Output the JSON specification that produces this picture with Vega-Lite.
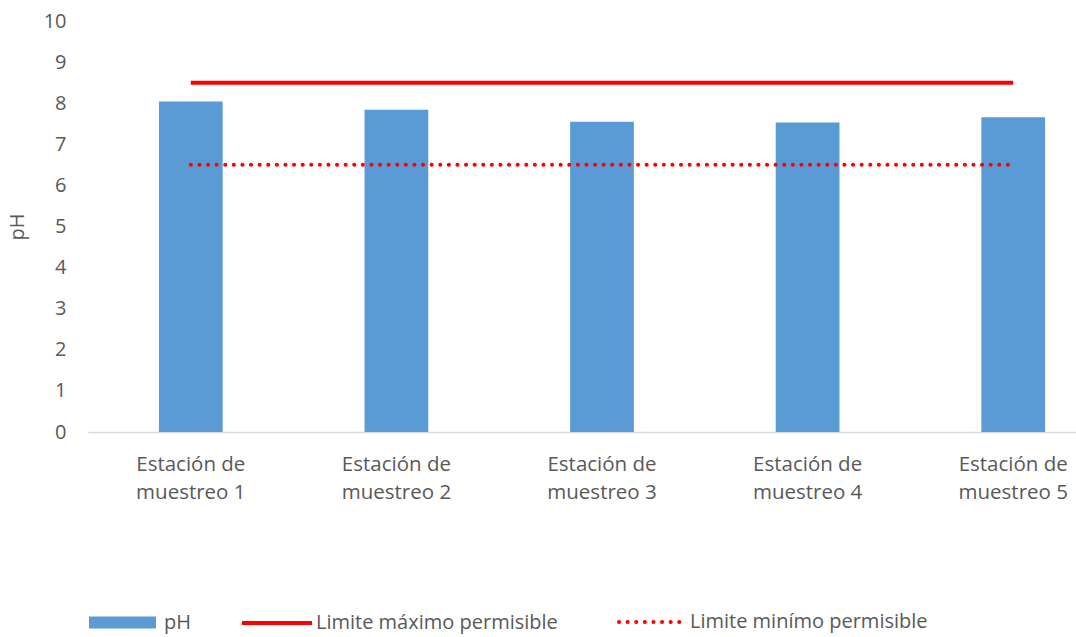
{
  "$schema": "https://vega.github.io/schema/vega-lite/v6.json",
  "width": 988,
  "height": 411,
  "autosize": "none",
  "padding": {"left": 88, "top": 21, "right": 0, "bottom": 205},
  "background": "white",
  "config": {
    "view": {"stroke": null},
    "font": "Open Sans",
    "axis": {"labelFont": "Open Sans", "titleFont": "Open Sans", "labelColor": "#595959", "titleColor": "#595959"},
    "legend": {"labelFont": "Open Sans", "labelColor": "#595959", "labelFontSize": 20, "labelLimit": 500, "padding": 0, "title": null}
  },
  "datasets": {
    "ph": [
      {"estacion": "Estación de muestreo 1", "serie": "pH", "ph": 8.04},
      {"estacion": "Estación de muestreo 2", "serie": "pH", "ph": 7.84},
      {"estacion": "Estación de muestreo 3", "serie": "pH", "ph": 7.55},
      {"estacion": "Estación de muestreo 4", "serie": "pH", "ph": 7.53},
      {"estacion": "Estación de muestreo 5", "serie": "pH", "ph": 7.66}
    ],
    "lims": [
      {"estacion": "Estación de muestreo 1", "maxl": "Limite máximo permisible", "max": 8.5, "minl": "Limite minímo permisible", "min": 6.5},
      {"estacion": "Estación de muestreo 2", "maxl": "Limite máximo permisible", "max": 8.5, "minl": "Limite minímo permisible", "min": 6.5},
      {"estacion": "Estación de muestreo 3", "maxl": "Limite máximo permisible", "max": 8.5, "minl": "Limite minímo permisible", "min": 6.5},
      {"estacion": "Estación de muestreo 4", "maxl": "Limite máximo permisible", "max": 8.5, "minl": "Limite minímo permisible", "min": 6.5},
      {"estacion": "Estación de muestreo 5", "maxl": "Limite máximo permisible", "max": 8.5, "minl": "Limite minímo permisible", "min": 6.5}
    ]
  },
  "encoding": {
    "x": {
      "field": "estacion", "type": "nominal", "sort": null,
      "scale": {"range": [0, 1028], "paddingInner": 0.69, "paddingOuter": 0.345},
      "axis": {
        "title": null, "labelAngle": 0, "ticks": false, "domainColor": "#D9D9D9", "domainWidth": 1.5,
        "labelFontSize": 20.5, "labelPadding": 22, "labelLineHeight": 28, "labelOverlap": false, "labelBound": false,
        "labelExpr": "[slice(datum.label, 0, 11), slice(datum.label, 12)]"
      }
    }
  },
  "layer": [
    {
      "data": {"name": "ph"},
      "mark": {"type": "bar", "fill": "#5B9BD5"},
      "encoding": {
        "y": {
          "field": "ph", "type": "quantitative",
          "scale": {"domain": [0, 10], "nice": false},
          "axis": {"title": "pH", "titleFontSize": 20, "titleFontWeight": "normal", "titlePadding": 16, "values": [0,1,2,3,4,5,6,7,8,9,10], "labelOverlap": false, "labelFlush": false, "labelBound": false, "grid": false, "domain": false, "ticks": false, "labelFontSize": 20, "labelPadding": 22}
        },
        "fill": {
          "field": "serie", "type": "nominal",
          "scale": {"range": ["#5B9BD5"]},
          "legend": {"orient": "none", "legendX": 1, "legendY": 568, "symbolType": "M-1,-0.18H1V0.18H-1Z", "symbolSize": 4489, "symbolStrokeWidth": 0, "labelOffset": 8}
        }
      }
    },
    {
      "data": {"name": "lims"},
      "mark": {"type": "line", "strokeWidth": 4, "strokeCap": "butt"},
      "encoding": {
        "y": {"field": "max", "type": "quantitative"},
        "stroke": {
          "field": "maxl", "type": "nominal",
          "scale": {"range": ["#FF0000"]},
          "legend": {"orient": "none", "legendX": 152, "legendY": 565, "symbolType": "stroke", "symbolSize": 4900, "symbolStrokeWidth": 4, "labelOffset": 2}
        }
      }
    },
    {
      "data": {"name": "lims"},
      "mark": {"type": "line", "strokeWidth": 4, "strokeCap": "round", "stroke": "#FF0000"},
      "encoding": {
        "y": {"field": "min", "type": "quantitative"},
        "strokeDash": {
          "field": "minl", "type": "nominal",
          "scale": {"range": [[0.1, 8.5]]},
          "legend": {"orient": "none", "legendX": 529, "legendY": 565, "symbolType": "stroke", "symbolSize": 4624, "symbolStrokeWidth": 4, "symbolStrokeColor": "#FF0000", "labelOffset": 1,
            "encode": {"symbols": {"update": {"strokeCap": {"value": "round"}, "stroke": {"value": "#FF0000"}}}}}
        }
      }
    }
  ]
}
